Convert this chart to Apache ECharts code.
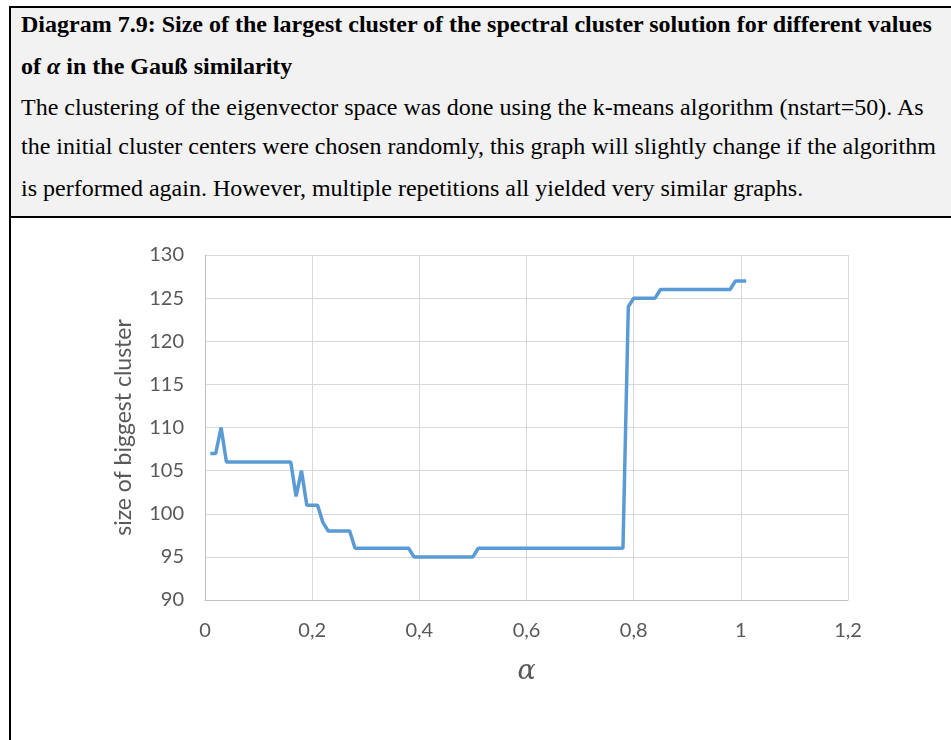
<!DOCTYPE html>
<html>
<head>
<meta charset="utf-8">
<script src="https://cdn.jsdelivr.net/npm/echarts@6/dist/echarts.min.js"></script>
<style>
  html, body { margin: 0; padding: 0; background: #fff; }
  #frame { position: absolute; left: 9px; top: 6px; width: 942px; height: 734px;
           border-left: 2px solid #000; border-top: 2px solid #000; box-sizing: border-box; }
  #header { position: absolute; left: 11px; top: 8px; width: 940px; height: 208px;
            background: #f2f2f2; border-bottom: 2px solid #000;
            font-family: "Liberation Serif", "Times New Roman", serif; font-size: 24px; color: #000; }
  #header .ln { position: absolute; left: 10px; white-space: nowrap; line-height: 28px; }
  #chart { position: absolute; left: 0; top: 0; width: 951px; height: 740px; }
</style>
</head>
<body>
<div id="chart"></div>
<div id="frame"></div>
<div id="header">
  <div class="ln" style="top:2px;font-weight:bold">Diagram 7.9: Size of the largest cluster of the spectral cluster solution for different values</div>
  <div class="ln" style="top:44px;font-weight:bold">of <i>α</i> in the Gauß similarity</div>
  <div class="ln" style="top:85px">The clustering of the eigenvector space was done using the k-means algorithm (nstart=50). As</div>
  <div class="ln" style="top:124px">the initial cluster centers were chosen randomly, this graph will slightly change if the algorithm</div>
  <div class="ln" style="top:166px">is performed again. However, multiple repetitions all yielded very similar graphs.</div>
</div>
<script>
  // breakpoints of the curve
  const alphaValues = [0.01, 0.02, 0.03, 0.04, 0.16, 0.17, 0.18, 0.19, 0.21, 0.22, 0.23, 0.27, 0.28,
    0.38, 0.39, 0.50, 0.51, 0.78, 0.79, 0.80, 0.84, 0.85, 0.98, 0.99, 1.01];
  const clusterSizes = [107, 107, 110, 106, 106, 102, 105, 101, 101, 99, 98, 98, 96,
    96, 95, 95, 96, 96, 124, 125, 125, 126, 126, 127, 127];

  const chart = echarts.init(document.getElementById('chart'));
  const axisFont = { fontFamily: 'Lato', fontSize: 20, color: '#595959' };
  chart.setOption({
    animation: false,
    grid: { left: 205, right: 103, top: 255, bottom: 140 },
    xAxis: {
      type: 'value',
      min: 0, max: 1.2, interval: 0.2,
      name: 'α',
      nameLocation: 'middle',
      nameGap: 58,
      nameTextStyle: { fontFamily: 'DejaVu Serif', fontStyle: 'italic', fontSize: 27, color: '#595959' },
      axisLine: { lineStyle: { color: '#bfbfbf', width: 1 } },
      axisTick: { show: false },
      axisLabel: Object.assign({ margin: 21, formatter: v => String(+v.toFixed(1)).replace('.', ',') }, axisFont),
      splitLine: { lineStyle: { color: '#d9d9d9', width: 1 } }
    },
    yAxis: {
      type: 'value',
      min: 90, max: 130, interval: 5,
      name: 'size of biggest cluster',
      nameLocation: 'middle',
      nameGap: 70,
      nameTextStyle: { fontFamily: 'Lato', fontSize: 23, color: '#595959' },
      axisLine: { show: true, lineStyle: { color: '#bfbfbf', width: 1 } },
      axisTick: { show: false },
      axisLabel: Object.assign({ margin: 21 }, axisFont),
      splitLine: { lineStyle: { color: '#d9d9d9', width: 1 } }
    },
    series: [{
      type: 'line',
      data: alphaValues.map((a, i) => [a, clusterSizes[i]]),
      showSymbol: false,
      lineStyle: { color: '#5b9bd5', width: 3.5 }
    }]
  });
</script>
</body>
</html>
